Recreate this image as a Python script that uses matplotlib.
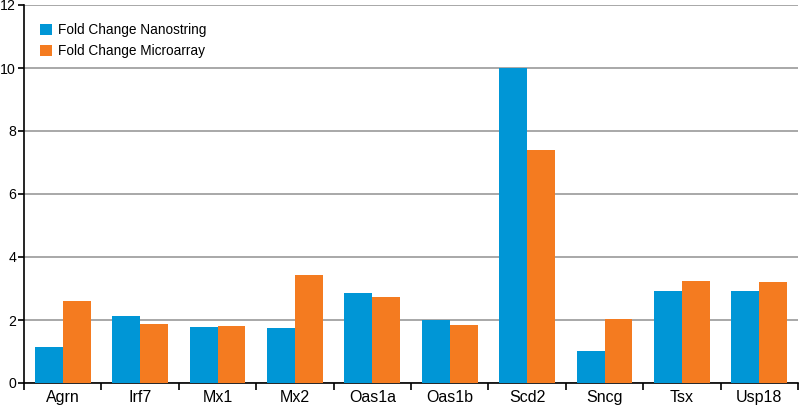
import matplotlib
matplotlib.use("Agg")
import matplotlib.pyplot as plt
import numpy as np

plt.rcParams['font.family'] = ['Liberation Sans', 'DejaVu Sans']

genes = ["Agrn", "Irf7", "Mx1", "Mx2", "Oas1a", "Oas1b", "Scd2", "Sncg", "Tsx", "Usp18"]
nanostring = [1.14, 2.12, 1.78, 1.75, 2.86, 2.0, 10.0, 1.02, 2.92, 2.93]
microarray = [2.6, 1.87, 1.8, 3.43, 2.73, 1.85, 7.4, 2.03, 3.25, 3.21]
yticks = [0, 2, 4, 6, 8, 10, 12]

fig = plt.figure(figsize=(8, 4.05), dpi=100)
ax = fig.add_axes([24/800, 1 - 383/405, 774/800, 378/405])

x = np.arange(len(genes))
w = 0.36
ax.bar(x - w/2, nanostring, w, color="#0096D6", label="Fold Change Nanostring", zorder=3)
ax.bar(x + w/2, microarray, w, color="#F47B20", label="Fold Change Microarray", zorder=3)

ax.set_xlim(-0.5, len(genes) - 0.5)
ax.set_ylim(0, 12)
ax.set_yticks(yticks)
ax.set_yticklabels([str(v) for v in yticks], fontsize=10.2)
ax.yaxis.grid(True, color="#9a9a9a", linewidth=1.2, zorder=0)
ax.set_axisbelow(True)

ax.set_xticks(np.arange(-0.5, len(genes), 1.0))
ax.set_xticklabels([])
ax.set_xticks(x, minor=True)
ax.set_xticklabels(genes, minor=True, fontsize=11.5)
ax.tick_params(axis='x', which='minor', length=0, pad=5)
ax.tick_params(axis='x', which='major', length=5, width=1.2, direction='out')
ax.tick_params(axis='y', length=4.5, width=1.2, direction='out', pad=1.2)

for s in ["top", "right"]:
    ax.spines[s].set_visible(False)
for s in ["left", "bottom"]:
    ax.spines[s].set_linewidth(1.2)
    ax.spines[s].set_color("black")

leg = ax.legend(loc="upper left", bbox_to_anchor=(0.005, 0.985), frameon=False,
                fontsize=9.8, handlelength=0.9, handleheight=0.9, handletextpad=0.45,
                labelspacing=0.55)

fig.savefig("out.png", dpi=100)
